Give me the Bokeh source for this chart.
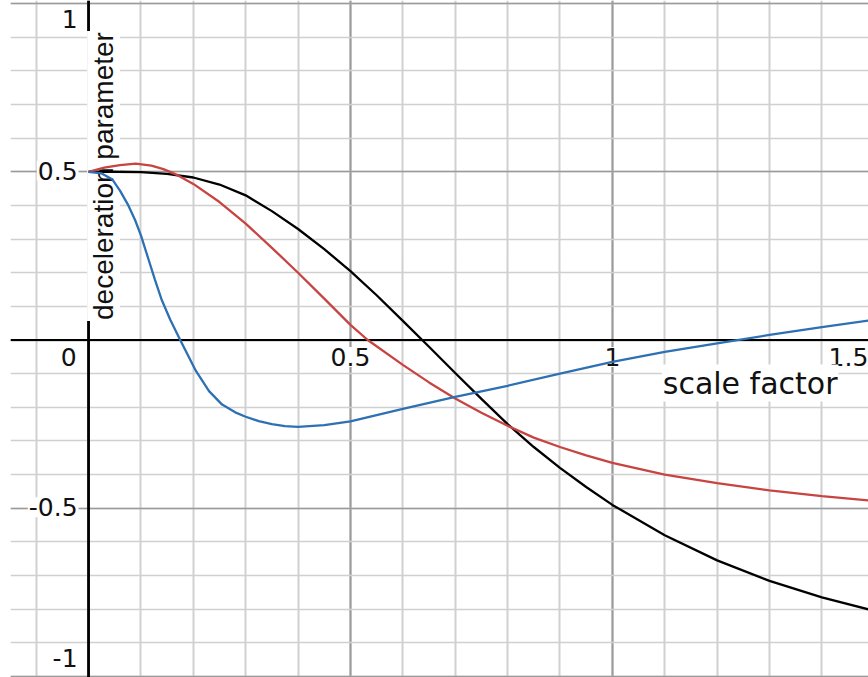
import math
from bokeh.plotting import figure
from bokeh.models import Grid, SingleIntervalTicker, Span, Range1d
from bokeh.core.properties import value
from bokeh.embed import file_html
from bokeh.resources import INLINE

# ---------------- data ----------------
black_x = [0, 0.05, 0.1, 0.15, 0.2, 0.25, 0.3, 0.35, 0.4, 0.45, 0.5, 0.55, 0.6,
           0.65, 0.7, 0.75, 0.8, 0.85, 0.9, 0.95, 1.0, 1.1, 1.2, 1.3, 1.4, 1.5]
black_y = [0.5, 0.5, 0.499, 0.494, 0.483, 0.462, 0.43, 0.383, 0.33, 0.27, 0.205,
           0.133, 0.057, -0.02, -0.098, -0.175, -0.25, -0.318, -0.38, -0.437, -0.49,
           -0.58, -0.655, -0.716, -0.765, -0.805]

red_x = [0, 0.03, 0.06, 0.09, 0.12, 0.143, 0.17, 0.2, 0.25, 0.3, 0.35, 0.4, 0.45,
         0.5, 0.533, 0.6, 0.65, 0.7, 0.75, 0.8, 0.85, 0.9, 0.95, 1.0, 1.1, 1.2, 1.3,
         1.4, 1.5]
red_y = [0.5, 0.512, 0.52, 0.524, 0.518, 0.508, 0.49, 0.464, 0.41, 0.346, 0.274,
         0.2, 0.123, 0.045, 0.0, -0.074, -0.126, -0.174, -0.216, -0.255, -0.29,
         -0.318, -0.343, -0.365, -0.4, -0.425, -0.447, -0.464, -0.478]

blue_x = [0, 0.025, 0.045, 0.06, 0.076, 0.089, 0.1, 0.115, 0.127, 0.14, 0.156, 0.175,
          0.19, 0.205, 0.23, 0.255, 0.28, 0.3, 0.325, 0.35, 0.375, 0.4, 0.45, 0.5,
          0.6, 0.7, 0.8, 0.9, 1.0, 1.1, 1.2, 1.3, 1.4, 1.5]
blue_y = [0.5, 0.495, 0.478, 0.444, 0.4, 0.356, 0.311, 0.237, 0.178, 0.118, 0.06, 0.0,
          -0.046, -0.092, -0.152, -0.192, -0.215, -0.228, -0.241, -0.25, -0.256,
          -0.258, -0.253, -0.242, -0.205, -0.169, -0.136, -0.1, -0.065, -0.035,
          -0.01, 0.015, 0.038, 0.06]

x_tick_vals = [0.5, 1.0, 1.5]
x_tick_text = ["0.5", "1", "1.5"]
y_tick_vals = [1.0, 0.5, -0.5, -1.0]
y_tick_text = ["1", "0.5", "-0.5", "-1"]
origin_text = ["0"]

x_title = "scale factor"
y_title = "deceleration parameter"

# ---------------- figure ----------------
W, H = 868, 677
LEFT = 10
X_START, X_END = -0.149, 1.489
Y_START, Y_END = -1.003, 1.009
px_x = (W - LEFT) / (X_END - X_START)
px_y = H / (Y_END - Y_START)

p = figure(width=W, height=H,
           x_range=Range1d(X_START, X_END), y_range=Range1d(Y_START, Y_END),
           x_axis_type=None, y_axis_type=None,
           toolbar_location=None, output_backend="svg",
           min_border=0, min_border_left=LEFT,
           outline_line_color=None,
           background_fill_color="white", border_fill_color="white")

# grid: minor every 0.1, major every 0.5
p.add_layout(Grid(dimension=0, ticker=SingleIntervalTicker(interval=0.5, num_minor_ticks=5),
                  grid_line_color="#9a9a9a", grid_line_width=2.0,
                  minor_grid_line_color="#d0d0d0", minor_grid_line_width=2.0,
                  level="underlay"))
p.add_layout(Grid(dimension=1, ticker=SingleIntervalTicker(interval=0.5, num_minor_ticks=5),
                  grid_line_color="#9a9a9a", grid_line_width=1.4,
                  minor_grid_line_color="#d0d0d0", minor_grid_line_width=1.4,
                  level="underlay"))

# axes lines through the origin
p.add_layout(Span(location=0, dimension="height", line_color="black",
                  line_width=2.8, level="underlay"))
p.add_layout(Span(location=0, dimension="width", line_color="black",
                  line_width=2.0, level="underlay"))

TICK_FONT = value("DejaVu Sans")
TICK_SIZE = "25px"

# x tick labels (clamped to stay inside the frame, like the original)
pad_x = 20 / px_x
xs = [min(v, X_END - pad_x) for v in x_tick_vals]
p.text(x=xs, y=[0] * len(xs), text=x_tick_text,
       text_font=TICK_FONT, text_font_size=TICK_SIZE, text_color="#111111",
       text_align="center", text_baseline="alphabetic", y_offset=17,
       background_fill_color="white", padding=1)

# y tick labels (clamped inside the frame)
pad_y = 19 / px_y
ys = [min(max(v, Y_START + pad_y), Y_END - pad_y) for v in y_tick_vals]
p.text(x=[0] * len(ys), y=ys, text=y_tick_text,
       text_font=TICK_FONT, text_font_size=TICK_SIZE, text_color="#111111",
       text_align="right", text_baseline="alphabetic", x_offset=-10, y_offset=-1,
       background_fill_color="white", padding=1)

# origin label
p.text(x=[0], y=[0], text=origin_text,
       text_font=TICK_FONT, text_font_size=TICK_SIZE, text_color="#111111",
       text_align="right", text_baseline="alphabetic", x_offset=-11, y_offset=17,
       background_fill_color="white", padding=1)

# axis titles
p.text(x=[X_END], y=[0], text=[x_title],
       text_font=TICK_FONT, text_font_size="30px", text_color="#111111",
       text_align="right", text_baseline="alphabetic", x_offset=-30, y_offset=43,
       background_fill_color="white", padding=1)

p.text(x=[0], y=[0], text=[y_title],
       text_font=value("Liberation Sans"), text_font_size="28px", text_color="#111111",
       text_align="left", text_baseline="alphabetic", angle=math.pi / 2,
       x_offset=15, y_offset=-19,
       background_fill_color="white", padding=1)

# curves
p.line(black_x, black_y, line_color="#000000", line_width=2.3)
p.line(red_x, red_y, line_color="#c74440", line_width=2.3)
p.line(blue_x, blue_y, line_color="#2d70b3", line_width=2.3)

open("out.html", "w").write(file_html(p, INLINE))
